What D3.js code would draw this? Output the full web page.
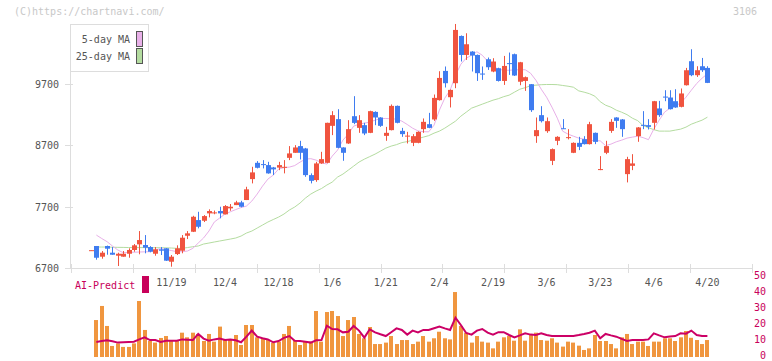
<!DOCTYPE html>
<html><head><meta charset="utf-8">
<script src="https://cdn.jsdelivr.net/npm/d3@7"></script>
<style>
body{margin:0;background:#fff}
svg{display:block}
text{font-family:"DejaVu Sans Mono","Liberation Mono",monospace;font-size:10px}
</style>
</head><body>
<svg id="chart" width="772" height="361"></svg>
<script>
// ---------------- data ----------------
const openP = [6990,7063,6889,7063,6954,6905,6889,6937,6998,7090,7079,7046,6937,7009,7025,6807,6932,6986,7230,7295,
7485,7474,7594,7594,7632,7578,7676,7729,7773,7811,8152,8417,8396,8380,8342,8339,8342,8498,8580,8689,
8651,8217,8136,8407,8417,9019,9128,8667,8732,9176,8986,9030,8905,9246,9155,8856,8949,9344,8937,8850,
8742,8742,8965,9046,9123,9437,9913,9485,9713,10482,10173,10228,10173,9870,10103,9903,9957,9750,10040,10185,
9737,9750,9697,8851,9193,8932,8449,8775,8980,8825,8580,8742,8802,8721,8905,8306,8580,8937,9155,9123,
8233,8368,8851,9035,9030,9068,9302,9495,9480,9420,9328,9680,10071,9843,9989,9962];
const closeP = [6995,6872,6954,7019,6921,6937,6937,6998,7074,7160,7035,6970,7009,6986,6824,6889,7025,7198,7269,7539,
7376,7550,7632,7610,7594,7713,7702,7773,7702,7985,8261,8336,8385,8245,8310,8380,8352,8570,8667,8580,
8217,8124,8407,8477,9068,9193,8661,8580,8965,9067,9111,8895,9258,9155,9019,8905,9344,9068,8884,8860,
8851,8921,9084,8986,9474,9799,9713,9604,10580,10173,10347,10163,9876,9860,9973,10066,9750,9994,10025,9838,
10054,9811,9274,8949,9095,9095,8640,8840,8975,8835,8742,8677,8721,9046,8758,8315,8689,9084,9100,8965,
8477,8407,8993,9025,9002,9420,9193,9490,9290,9318,9546,9924,9843,9924,9924,9718];
const highP = [6995,7063,6981,7070,7046,6954,6981,7025,7095,7306,7241,7060,7046,7046,7030,6916,7074,7241,7306,7555,
7620,7566,7660,7640,7702,7729,7746,7799,7799,8027,8352,8445,8461,8433,8350,8433,8461,8689,8705,8775,
8660,8245,8433,8596,9070,9258,9290,8670,9111,9502,9193,9068,9265,9255,9160,9002,9367,9350,8986,8921,
8884,8930,9139,9230,9529,9908,9985,9610,10677,10490,10526,10235,10180,9985,10131,10120,9965,10157,10212,10195,
10060,9822,9700,9155,9339,9155,8651,8850,9128,8965,8750,8840,8851,9084,8910,8526,8775,9128,9160,9130,
8515,8558,9000,9258,9128,9425,9425,9599,9599,9615,9627,9962,10266,9989,10124,9989];
const lowP = [6990,6840,6856,6921,6921,6737,6889,6872,6970,6928,6944,6960,6905,6916,6820,6726,6916,6944,7176,7290,
7350,7453,7529,7580,7513,7578,7637,7729,7692,7811,8082,8326,8326,8240,8217,8298,8245,8461,8580,8472,
8189,8082,8108,8400,8410,8868,8655,8450,8725,9046,8905,8868,8900,9030,9002,8775,8945,9060,8840,8732,
8689,8735,8905,8980,9100,9430,9643,9318,9632,10066,10092,9903,9750,9767,9929,9892,9740,9685,9848,9830,
9680,9588,9246,8742,9074,8905,8380,8705,8970,8798,8575,8624,8715,8715,8721,8298,8558,8905,8986,8840,
8098,8298,8759,8965,8960,8960,9165,9420,9285,9312,9320,9675,9827,9815,9897,9715];
const ma5 = [null,7241,7185,7133,7063,6998,6954,6957,6962,6965,6968,6970,6998,7022,7006,6989,6970,6970,6981,7025,
7111,7193,7306,7453,7518,7583,7620,7656,7689,7713,7794,7908,8038,8152,8217,8315,8339,8347,8372,8428,
8477,8485,8461,8420,8396,8526,8624,8786,8884,9014,9046,9063,9079,9111,9136,9139,9133,9128,9095,9041,
8981,8937,8924,8921,9030,9274,9469,9599,9843,10022,10120,10168,10225,10168,10071,9989,9941,9924,9924,9929,
9932,9932,9876,9762,9615,9485,9323,9144,8932,8884,8851,8819,8802,8786,8778,8775,8697,8721,8759,8786,
8819,8835,8851,8827,8794,8965,9111,9241,9306,9347,9388,9485,9599,9708,9794,9867];
const ma25 = [null,7046,7046,7046,7043,7041,7040,7038,7038,7037,7037,7035,7035,7035,7033,7030,7025,7025,7038,7051,
7063,7095,7111,7128,7144,7160,7176,7193,7225,7274,7306,7355,7404,7453,7494,7534,7583,7648,7697,7762,
7843,7908,7957,7998,8055,8103,8185,8233,8298,8363,8429,8477,8518,8559,8607,8656,8689,8713,8746,8762,
8786,8811,8835,8859,8900,8933,8981,9038,9095,9176,9241,9307,9339,9372,9404,9437,9461,9494,9518,9567,
9615,9640,9672,9681,9689,9692,9692,9689,9676,9664,9648,9588,9567,9542,9502,9412,9355,9323,9274,9241,
9201,9144,9103,9022,8989,8957,8933,8933,8933,8949,8965,8998,9046,9079,9111,9160];
const volume = [null,23.1,31.9,19.4,6.9,8.5,6.3,6.3,8.5,35,16.9,10,9,11.9,13.1,10,10,15.2,12.3,15.2,
14.4,10,14.4,9.6,19,10.6,10.6,13.75,7.5,20,20,12.3,11.7,10.6,9,9.6,14.4,19.4,10.6,7.5,
9.6,9.6,28.75,9.6,28.1,28.75,25.6,13.1,23.1,25,14.4,11.7,18.75,8.1,8.1,9,13.1,8.1,10.6,10.6,
8.1,9.6,13.1,9.6,11.7,15.8,11.7,11,40.6,19.4,15.2,9,13.1,9.6,9,5.4,9.6,12.3,13.1,10.2,
17.3,10.2,14.4,15.2,10.6,10.2,11.7,9,6.5,9.6,9,7.1,4.4,5.4,13.75,10,10,8.1,5.4,12.3,
14.4,8.1,9.6,9.6,6.9,9.6,9.6,11.7,11.7,10,12.3,16.25,12,10.6,8.1,10.6];
const aiPredict = [null,9.4,10,10.4,9.8,9,9.2,9.4,9.6,11,12.3,10.6,10.6,9.4,10.2,10.2,10.2,11,10.8,10.6,
14.4,11.5,10.2,11,11.5,10.6,11,10.5,9.2,12.7,16.5,12.7,11.7,11,9.2,10,12,13.1,10.2,10,
9.5,9,10.4,10.6,19.6,17.5,17.3,15.4,15.8,19.4,16.5,12.1,17.3,15.4,14.2,13.1,15.5,17.9,16.9,14,
16.5,15.4,16.9,16.9,18,19,17.9,16.9,24.6,20,15,14,16.5,17.5,15.2,14,15.5,15.5,13.75,12.3,
13.5,14.8,14,13.75,14.8,13.8,13.1,13.1,13.1,13.1,13.2,13.75,14.4,15.2,16.5,11.7,14.4,13.5,12.7,11.3,
10,10.6,10.6,10.6,11,14.8,13.5,12.3,12.8,13.1,14.8,14.6,16.5,13.75,13.1,13.1];
const dateLabels = ["11/19","12/4","12/18","1/6","1/21","2/4","2/19","3/6","3/23","4/6","4/20"];
const dateLabelIdx = [15,25,35,45,55,65,75,85,95,105,115];
const priceTicks = [6700,7700,8700,9700];
const volTicks = [0,10,20,30,40,50];
const gridTickCount = 12;

// ---------------- drawing ----------------
const svg = d3.select("#chart");
const n = closeP.length;
const x = d3.scaleLinear().domain([0, n - 1]).range([91, 707.4]);
const y = d3.scaleLinear().domain([6700, 9700]).range([268.3, 84]);
const v = d3.scaleLinear().domain([0, 50]).range([357, 277]);
const g = d3.scaleLinear().domain([0, gridTickCount - 1]).range([71, 752]);

const AXIS = "#dddddd", TXT = "#555555", RED = "#f0543f", BLUE = "#3f7cf0";
const CRIMSON = "#c8005a";

svg.append("rect").attr("width", 772).attr("height", 361).attr("fill", "#fff");

// watermark and code
svg.append("text").attr("x", 14).attr("y", 12).attr("dominant-baseline", "middle")
  .attr("fill", "#c8c8c8").text("(C)https://chartnavi.com/");
svg.append("text").attr("x", 757).attr("y", 12).attr("text-anchor", "end").attr("dominant-baseline", "middle")
  .attr("fill", "#c8c8c8").text("3106");

// axes
svg.append("line").attr("x1", 70.5).attr("x2", 70.5).attr("y1", 24).attr("y2", 268.5)
  .attr("stroke", AXIS);
svg.append("line").attr("x1", 65).attr("x2", 752).attr("y1", 268.5).attr("y2", 268.5)
  .attr("stroke", AXIS);

const yt = svg.append("g");
priceTicks.forEach(p => {
  const yy = Math.round(y(p)) + 0.5;
  yt.append("line").attr("x1", 65).attr("x2", 73).attr("y1", yy).attr("y2", yy).attr("stroke", AXIS);
  yt.append("text").attr("x", 59).attr("y", yy).attr("text-anchor", "end")
    .attr("dominant-baseline", "middle").attr("fill", TXT).text(p);
});

d3.range(gridTickCount).forEach(k => {
  const xx = Math.round(g(k)) + 0.5;
  svg.append("line").attr("x1", xx).attr("x2", xx).attr("y1", 264).attr("y2", 273).attr("stroke", AXIS);
});
dateLabels.forEach((d, k) => {
  svg.append("text").attr("x", x(dateLabelIdx[k])).attr("y", 283).attr("text-anchor", "middle")
    .attr("dominant-baseline", "middle").attr("fill", TXT).text(d);
});

// moving averages
const lineGen = d3.line().defined(d => d != null).x((d, i) => x(i)).y(d => y(d));
svg.append("path").datum(ma25).attr("d", lineGen).attr("fill", "none")
  .attr("stroke", "#b4dca0").attr("stroke-width", 1);
svg.append("path").datum(ma5).attr("d", lineGen).attr("fill", "none")
  .attr("stroke", "#e8b0e8").attr("stroke-width", 1);

// candles
const cg = svg.append("g");
for (let i = 0; i < n; i++) {
  const up = closeP[i] >= openP[i];
  const col = up ? RED : BLUE;
  const cx = Math.round(x(i));
  cg.append("line").attr("x1", cx + 0.5).attr("x2", cx + 0.5)
    .attr("y1", y(highP[i])).attr("y2", y(lowP[i])).attr("stroke", col);
  const top = y(Math.max(openP[i], closeP[i]));
  const bot = y(Math.min(openP[i], closeP[i]));
  cg.append("rect").attr("x", cx - 2).attr("width", 5)
    .attr("y", top).attr("height", Math.max(1, bot - top)).attr("fill", col);
}

// legend
svg.append("rect").attr("x", 70.5).attr("y", 24.5).attr("width", 78).attr("height", 47)
  .attr("fill", "#fff").attr("stroke", AXIS);
[["5-day MA", "#e8b0e8", 40], ["25-day MA", "#b4dca0", 57]].forEach(([t, c, yy]) => {
  svg.append("text").attr("x", 130).attr("y", yy).attr("text-anchor", "end")
    .attr("dominant-baseline", "middle").attr("fill", TXT).text(t);
  svg.append("rect").attr("x", 136.5).attr("y", yy - 8.5).attr("width", 6).attr("height", 15)
    .attr("fill", c).attr("stroke", "#555");
});

// lower panel
svg.append("text").attr("x", 75).attr("y", 286).attr("dominant-baseline", "middle")
  .attr("fill", CRIMSON).text("AI-Predict");
svg.append("rect").attr("x", 142).attr("y", 276).attr("width", 7).attr("height", 17).attr("fill", CRIMSON);

volTicks.forEach(t => {
  svg.append("text").attr("x", 766).attr("y", v(t) - 1).attr("text-anchor", "end")
    .attr("dominant-baseline", "middle").attr("fill", CRIMSON).text(t);
});

const vg = svg.append("g");
volume.forEach((val, i) => {
  if (val == null) return;
  const cx = Math.round(x(i));
  vg.append("rect").attr("x", cx - 2).attr("width", 4).attr("y", v(val))
    .attr("height", v(0) - v(val)).attr("fill", "#f0963f");
});

const aiLine = d3.line().defined(d => d != null).x((d, i) => x(i)).y(d => v(d));
svg.append("path").datum(aiPredict).attr("d", aiLine).attr("fill", "none")
  .attr("stroke", "#cc0066").attr("stroke-width", 2);
</script>
</body></html>
